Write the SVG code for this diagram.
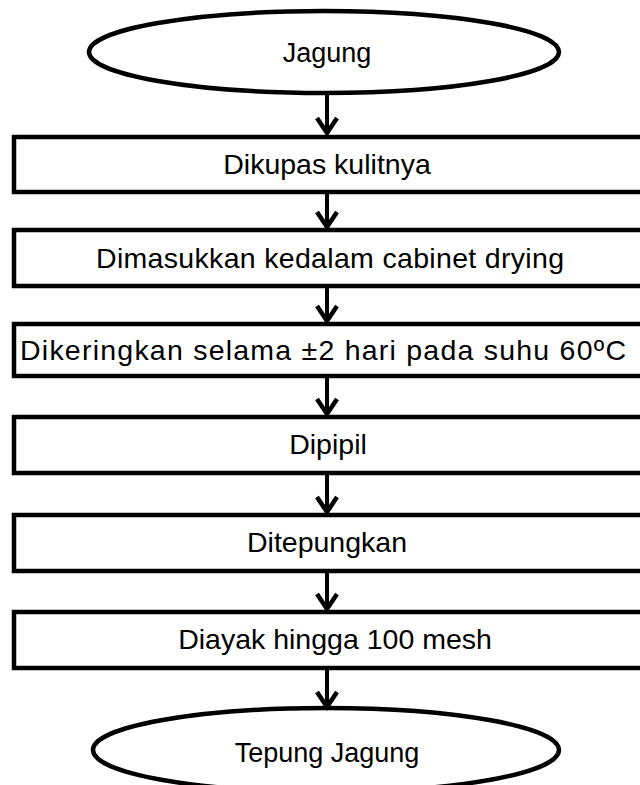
<svg xmlns="http://www.w3.org/2000/svg" width="640" height="785" viewBox="0 0 640 785">
<style>
.box{fill:#fff;stroke:#000;stroke-width:4.5}
.term{fill:#fff;stroke:#000;stroke-width:4.5}
.lbl{font-family:"Liberation Sans",Arial,sans-serif;font-size:27px;fill:#000;text-anchor:middle}
.bl{font-size:28.5px}
.con{stroke:#000;stroke-width:4;fill:none}
.head{stroke:#000;stroke-width:4.5;fill:none;stroke-linejoin:miter}
</style>
<rect width="640" height="785" fill="#fff"/>
<g id="n0"><ellipse class="term" cx="324" cy="52" rx="235" ry="41"/><text class="lbl" x="327" y="62">Jagung</text></g>
<g id="n1"><rect class="box" x="14" y="137" width="640" height="55"/><text class="lbl bl" x="327" y="174">Dikupas kulitnya</text></g>
<g id="n2"><rect class="box" x="14" y="230" width="640" height="56"/><text class="lbl bl" x="330" y="268" textLength="468" lengthAdjust="spacing">Dimasukkan kedalam cabinet drying</text></g>
<g id="n3"><rect class="box" x="14" y="324" width="640" height="52"/><text class="lbl bl" x="323" y="360" textLength="606" lengthAdjust="spacing">Dikeringkan selama ±2 hari pada suhu 60ºC</text></g>
<g id="n4"><rect class="box" x="14" y="417" width="640" height="56"/><text class="lbl bl" x="328" y="454">Dipipil</text></g>
<g id="n5"><rect class="box" x="14" y="515" width="640" height="56"/><text class="lbl bl" x="327" y="552">Ditepungkan</text></g>
<g id="n6"><rect class="box" x="14" y="612" width="640" height="56"/><text class="lbl bl" x="335" y="649">Diayak hingga 100 mesh</text></g>
<g id="n7"><ellipse class="term" cx="326" cy="750" rx="233" ry="42"/><text class="lbl" x="327" y="762">Tepung Jagung</text></g>
<g id="connectors">
<path class="con" d="M327 94V134"/><path class="head" d="M317 118L327 133L337 118"/>
<path class="con" d="M327 194V227"/><path class="head" d="M317 212L327 227L337 212"/>
<path class="con" d="M327 288V321"/><path class="head" d="M317 306L327 321L337 306"/>
<path class="con" d="M327 378V414"/><path class="head" d="M317 399L327 414L337 399"/>
<path class="con" d="M327 475V512"/><path class="head" d="M317 497L327 512L337 497"/>
<path class="con" d="M327 573V609"/><path class="head" d="M317 594L327 609L337 594"/>
<path class="con" d="M327 670V707"/><path class="head" d="M317 692L327 707L337 692"/>
</g>
</svg>
